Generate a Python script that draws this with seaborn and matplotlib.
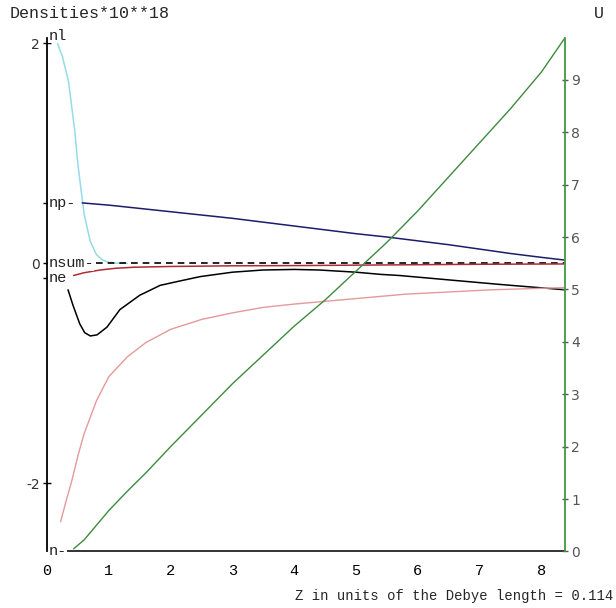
import numpy as np
import pandas as pd
import matplotlib
matplotlib.use("Agg")
import matplotlib.pyplot as plt
import seaborn as sns

# curves (x in Debye lengths)
nl_x = [0.17, 0.25, 0.35, 0.45, 0.5, 0.6, 0.7, 0.8, 0.9, 1.0, 1.1, 1.3]
nl_y = [2.0, 1.88, 1.65, 1.2, 0.9, 0.45, 0.2, 0.08, 0.03, 0.01, 0.003, 0.0]

np_x = [0.57, 1.0, 1.5, 2.0, 2.5, 3.0, 3.5, 4.0, 4.5, 5.0, 5.5, 6.0, 6.5, 7.0, 7.5, 8.0, 8.38]
np_y = [0.55, 0.53, 0.5, 0.47, 0.44, 0.41, 0.375, 0.34, 0.305, 0.27, 0.24, 0.205, 0.17, 0.13, 0.09, 0.055, 0.03]

nsum_x = [0.8, 8.38]
nsum_y = [0.0, 0.0]

ne_x = [0.43, 0.6, 0.86, 1.1, 1.4, 2.0, 2.5, 3.0, 4.0, 5.0, 6.0, 7.0, 8.38]
ne_y = [-0.11, -0.085, -0.06, -0.045, -0.035, -0.028, -0.025, -0.022, -0.02, -0.016, -0.012, -0.008, -0.005]

nb_x = [0.34, 0.42, 0.53, 0.61, 0.7, 0.81, 0.97, 1.18, 1.5, 1.83, 2.15, 2.48, 3.0, 3.5, 4.0, 4.4, 5.0, 5.4, 5.7, 6.5, 7.3, 8.38]
nb_y = [-0.24, -0.38, -0.55, -0.63, -0.66, -0.65, -0.58, -0.42, -0.29, -0.2, -0.16, -0.12, -0.08, -0.06, -0.055, -0.06, -0.08, -0.1, -0.11, -0.15, -0.19, -0.24]

n_x = [0.22, 0.3, 0.4, 0.5, 0.6, 0.8, 1.0, 1.3, 1.6, 2.0, 2.5, 3.0, 3.5, 4.0, 4.6, 5.2, 5.8, 6.5, 7.2, 7.8, 8.38]
n_y = [-2.35, -2.18, -1.98, -1.75, -1.55, -1.25, -1.03, -0.85, -0.72, -0.6, -0.51, -0.45, -0.4, -0.37, -0.34, -0.31, -0.28, -0.26, -0.24, -0.23, -0.22]

u_x = [0.43, 0.6, 0.8, 1.0, 1.3, 1.6, 2.0, 2.5, 3.0, 3.5, 4.0, 4.5, 5.0, 5.5, 6.0, 6.5, 7.0, 7.5, 8.0, 8.38]
u_y = [0.05, 0.22, 0.5, 0.78, 1.15, 1.5, 2.0, 2.6, 3.2, 3.75, 4.3, 4.8, 5.35, 5.9, 6.5, 7.15, 7.8, 8.45, 9.15, 9.8]

x_ticks = [0, 1, 2, 3, 4, 5, 6, 7, 8]
left_ticks = [2, 0, -2]
u_ticks = [0, 1, 2, 3, 4, 5, 6, 7, 8, 9]

# curve names written next to the left axis, at their y position
curve_labels = ["nl", "np-", "nsum-", "ne", "n-"]
curve_label_y = [2.07, 0.55, 0.0, -0.13, -2.62]

sns.set_style("white")
mono = ["Liberation Mono", "DejaVu Sans Mono"]

fig = plt.figure(figsize=(6.16, 6.08), dpi=100)
ax = fig.add_axes([0.0763, 0.093, 0.8407, 0.8445])
ax2 = ax.twinx()

sns.lineplot(x=nl_x, y=nl_y, ax=ax, color="#95dbe8", lw=1.1)
sns.lineplot(x=np_x, y=np_y, ax=ax, color="#1c1c6a", lw=1.1)
sns.lineplot(x=nsum_x, y=nsum_y, ax=ax, color="black", lw=1.2, linestyle=(0, (4, 3)))
sns.lineplot(x=ne_x, y=ne_y, ax=ax, color="#b02a35", lw=1.1)
sns.lineplot(x=nb_x, y=nb_y, ax=ax, color="black", lw=1.1)
sns.lineplot(x=n_x, y=n_y, ax=ax, color="#e39a9a", lw=1.0)
sns.lineplot(x=u_x, y=u_y, ax=ax2, color="#3f8a3f", lw=1.0)

ax.set_xlim(0, 8.38)
ax.set_ylim(-2.62, 2.05)
ax2.set_ylim(0, 9.8)

ax.set_xticks(x_ticks)
ax.set_xticklabels([str(t) for t in x_ticks], family=mono, fontsize=11)
ax.set_yticks(left_ticks)
ax.set_yticklabels([str(t) for t in left_ticks], fontsize=10, color="#333333")
ax.set_yticks([0.55, -0.13], minor=True)
ax2.set_yticks(u_ticks)
ax2.set_yticklabels([str(t) for t in u_ticks], fontsize=10, color="#333333")

ax.tick_params(axis="both", which="both", direction="inout", length=6, width=1, colors="black", pad=2)
ax.tick_params(axis="x", pad=6)
ax.tick_params(axis="y", labelcolor="#333333")
ax2.tick_params(axis="y", direction="inout", length=5, width=1, colors="#555555", pad=2)

for s in ["top", "right"]:
    ax.spines[s].set_visible(False)
for s in ["top", "left", "bottom"]:
    ax2.spines[s].set_visible(False)
ax.spines["left"].set_color("black")
ax.spines["bottom"].set_color("#222222")
ax2.spines["right"].set_color("#3f9a3f")
ax.spines["left"].set_linewidth(1.3)
ax.spines["bottom"].set_linewidth(1.3)
ax2.spines["right"].set_linewidth(1.3)

for lab, yv in zip(curve_labels, curve_label_y):
    ax.text(0.02, yv, lab, family=mono, fontsize=11, va="center", ha="left",
            color="#222222", clip_on=False, zorder=5,
            bbox=dict(facecolor="white", edgecolor="none", pad=0.2))

fig.text(0.015, 0.978, "Densities*10**18", family=mono, fontsize=12, va="center", ha="left")
fig.text(0.972, 0.978, "U", family=mono, fontsize=12, va="center", ha="center")
fig.text(0.995, 0.02, "Z in units of the Debye length = 0.114", family=mono,
         fontsize=10, va="center", ha="right")

ax.set_xlabel("")
ax.set_ylabel("")
ax2.set_ylabel("")

fig.savefig("out.png", dpi=100)
